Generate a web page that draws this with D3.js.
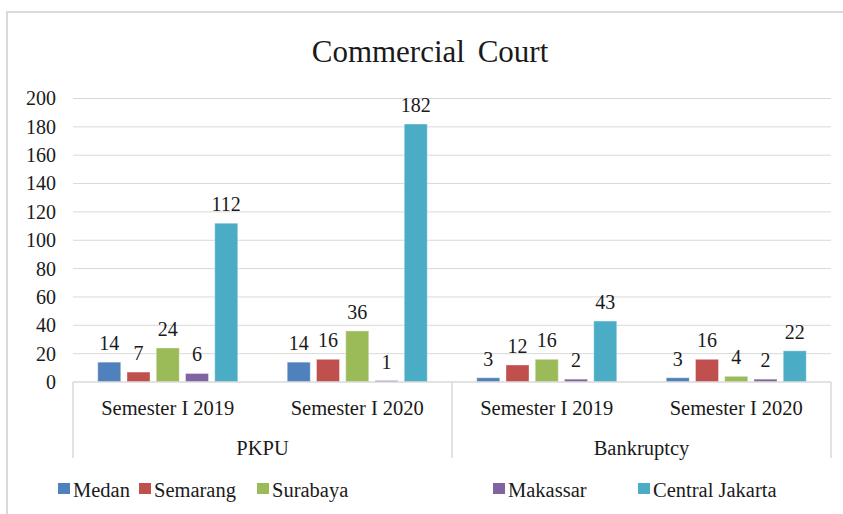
<!DOCTYPE html>
<html>
<head>
<meta charset="utf-8">
<script src="https://cdn.jsdelivr.net/npm/d3@7"></script>
<style>
  body { margin: 0; background: #fff; }
  svg text { font-family: 'Liberation Serif', 'DejaVu Serif', serif !important; fill: #1a1a1a; }
</style>
</head>
<body>
<svg width="843" height="514"></svg>
<script>
// data
const periods = ["Semester I 2019", "Semester I 2020", "Semester I 2019", "Semester I 2020"]
const groups = ["PKPU", "Bankruptcy"]
const cities = ["Medan", "Semarang", "Surabaya", "Makassar", "Central Jakarta"]
const medan = [14, 14, 3, 3]
const semarang = [7, 16, 12, 16]
const surabaya = [24, 36, 16, 4]
const makassar = [6, 1, 2, 2]
const centralJakarta = [112, 182, 43, 22]
const yTicks = [0, 20, 40, 60, 80, 100, 120, 140, 160, 180, 200]

const seriesValues = [medan, semarang, surabaya, makassar, centralJakarta]
const colors = ["#4f81bd", "#c0504d", "#9bbb59", "#8064a2", "#4bacc6"]

const svg = d3.select("svg")

// outer frame (runs off the right and bottom edge)
svg.append("rect")
  .attr("x", 7).attr("y", 12)
  .attr("width", 860).attr("height", 520)
  .attr("fill", "none")
  .attr("stroke", "#d9d9d9")
  .attr("stroke-width", 2)

const plotLeft = 73, plotRight = 831, plotTop = 98.5, plotBottom = 382

svg.append("text")
  .attr("x", 430).attr("y", 62)
  .attr("text-anchor", "middle")
  .attr("font-size", 31)
  .attr("word-spacing", 5)
  .text("Commercial Court")

const yScale = d3.scaleLinear().domain([0, 200]).range([plotBottom, plotTop])

const x0 = d3.scaleBand().domain(d3.range(periods.length)).range([plotLeft, plotRight])
const x1 = d3.scaleBand().domain(cities)
  .range([0, x0.bandwidth()])
  .paddingInner(0.214)
  .paddingOuter(0.846)

// gridlines
svg.append("g").selectAll("line")
  .data(yTicks.filter(d => d > 0))
  .enter().append("line")
  .attr("x1", plotLeft).attr("x2", plotRight)
  .attr("y1", d => yScale(d)).attr("y2", d => yScale(d))
  .attr("stroke", "#d9d9d9")
  .attr("stroke-width", 1)

// y axis labels
const yAxis = svg.append("g")
  .attr("transform", "translate(" + 56 + ",0)")
  .call(d3.axisLeft(yScale).tickValues(yTicks).tickSize(0).tickPadding(0))
yAxis.attr("font-family", null)
yAxis.select(".domain").remove()
yAxis.selectAll("text")
  .attr("font-size", 20)
  .attr("fill", "#1a1a1a")

// bars
const groupG = svg.append("g").selectAll("g")
  .data(periods)
  .enter().append("g")
  .attr("transform", (d, i) => "translate(" + x0(i) + ",0)")

groupG.each(function(p, i) {
  const g = d3.select(this)
  const rows = cities.map((c, k) => ({city: c, value: seriesValues[k][i], color: colors[k]}))
  g.selectAll("rect")
    .data(rows)
    .enter().append("rect")
    .attr("x", d => x1(d.city))
    .attr("width", x1.bandwidth())
    .attr("y", d => yScale(d.value))
    .attr("height", d => plotBottom - yScale(d.value))
    .attr("fill", d => d.color)
    .attr("stroke", "#ffffff")
    .attr("stroke-opacity", 0.35)
    .attr("stroke-width", 1)
  g.selectAll("text.val")
    .data(rows)
    .enter().append("text")
    .attr("class", "val")
    .attr("x", d => x1(d.city) + x1.bandwidth() / 2)
    .attr("y", d => yScale(d.value) - 12)
    .attr("text-anchor", "middle")
    .attr("font-size", 20)
    .text(d => d.value)
})

// category axis
svg.append("line")
  .attr("x1", plotLeft).attr("x2", plotRight)
  .attr("y1", plotBottom).attr("y2", plotBottom)
  .attr("stroke", "#d9d9d9")
  .attr("stroke-width", 1.5)

const sepX = [plotLeft, (plotLeft + plotRight) / 2, plotRight]
svg.append("g").selectAll("line")
  .data(sepX)
  .enter().append("line")
  .attr("x1", d => d).attr("x2", d => d)
  .attr("y1", plotBottom).attr("y2", 458)
  .attr("stroke", "#d9d9d9")
  .attr("stroke-width", 1.5)

svg.append("g").selectAll("text")
  .data(periods)
  .enter().append("text")
  .attr("x", (d, i) => x0(i) + x0.bandwidth() / 2)
  .attr("y", 415)
  .attr("text-anchor", "middle")
  .attr("font-size", 20.5)
  .text(d => d)

svg.append("g").selectAll("text")
  .data(groups)
  .enter().append("text")
  .attr("x", (d, i) => (x0(i * 2) + x0(i * 2 + 1) + x0.bandwidth()) / 2)
  .attr("y", 455)
  .attr("text-anchor", "middle")
  .attr("font-size", 20.5)
  .text(d => d)

// legend
const legendX = [58, 139, 257, 493, 638]
const legend = svg.append("g").selectAll("g")
  .data(cities)
  .enter().append("g")
  .attr("transform", (d, i) => "translate(" + legendX[i] + ",483)")
legend.append("rect")
  .attr("width", 12).attr("height", 11)
  .attr("fill", (d, i) => colors[i])
legend.append("text")
  .attr("x", 15).attr("y", 14)
  .attr("font-size", 20.5)
  .text(d => d)
</script>
</body>
</html>
